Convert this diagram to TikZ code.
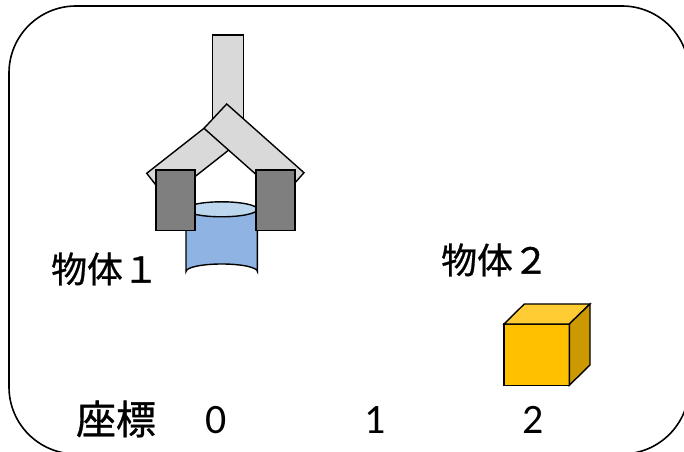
\documentclass[tikz,border=0pt]{standalone}
\usepackage{fontspec}
\usepackage{xcolor}
\usepackage{tikz}
\newfontfamily\jpfont[FakeBold=0.8]{Noto Sans CJK JP}
\newfontfamily\numfont{Carlito}

\definecolor{armgray}{HTML}{D9D9D9}
\definecolor{padgray}{HTML}{7F7F7F}
\definecolor{cylbody}{HTML}{8FB4E3}
\definecolor{cyltop}{HTML}{BDD7EE}
\definecolor{cubefront}{HTML}{FFC000}
\definecolor{cubetop}{HTML}{FFCD33}
\definecolor{cubeside}{HTML}{CC9A00}

\tikzset{
    part/.style={draw=black, line width=1.4pt, line join=miter},
    label/.style={font=\jpfont\fontsize{36}{42}\selectfont, inner sep=0pt},
    tick/.style={font=\numfont\fontsize{42}{48}\selectfont, inner sep=0pt}
}

\begin{document}
\begin{tikzpicture}[x=1bp, y=-1bp]
        \useasboundingbox (0,0) rectangle (684,452);
        \clip (0,0) rectangle (684,452);

        % frame (right and bottom sides run off the page)
        \draw[line width=1.6bp, rounded corners=67bp] (689,200) -- (689,6) -- (9,6) -- (9,454) -- (400,454);
        \draw[line width=1.6bp, rounded corners=67bp] (689,250) -- (689,454) -- (450,454);

        % gripper: shaft and the two arms
        \draw[part, fill=armgray] (212.3,35) rectangle (243.3,130);
        \draw[part, fill=armgray] (226.8,110.4) -- (146.7,173.3) -- (166.7,198.8) -- (246.8,135.9) -- cycle;
        \draw[part, fill=armgray] (204,128.3) -- (226.7,104) -- (304,172.7) -- (282,197.5) -- cycle;

        % object 1: cylinder
        \fill[cylbody] (186,209.3) -- (186,271.5) arc[start angle=180, end angle=360, x radius=35.7, y radius=7.5]
            -- (257.4,209.3) -- cycle;
        \draw[part] (186,209.3) -- (186,271.5) arc[start angle=180, end angle=360, x radius=35.7, y radius=7.5]
            -- (257.4,209.3);
        \draw[part, fill=cyltop] (221.7,209.3) ellipse[x radius=35.7, y radius=7.5];

        % gripper pads
        \draw[part, fill=padgray] (156,170) rectangle (195,230.7);
        \draw[part, fill=padgray] (256,170) rectangle (295,230.7);

        % object 2: cube
        \draw[part, fill=cubefront] (504,324) rectangle (569.3,385.3);
        \draw[part, fill=cubetop] (504,324) -- (524.3,304) -- (590,304) -- (569.3,324) -- cycle;
        \draw[part, fill=cubeside] (569.3,324) -- (590,304) -- (590,365) -- (569.3,385.3) -- cycle;

        % labels
        \node[label] (obj1) at (105,269) {物体１};
        \node[label] (obj2) at (495,260) {物体２};
        \node[label, font=\jpfont\fontsize{40}{46}\selectfont] (coord) at (116,419) {座標};

        \node[tick] (x0) at (216,420) {0};
        \node[tick] (x1) at (375.5,420) {1};
        \node[tick] (x2) at (533.5,420) {2};
    \end{tikzpicture}
\end{document}
